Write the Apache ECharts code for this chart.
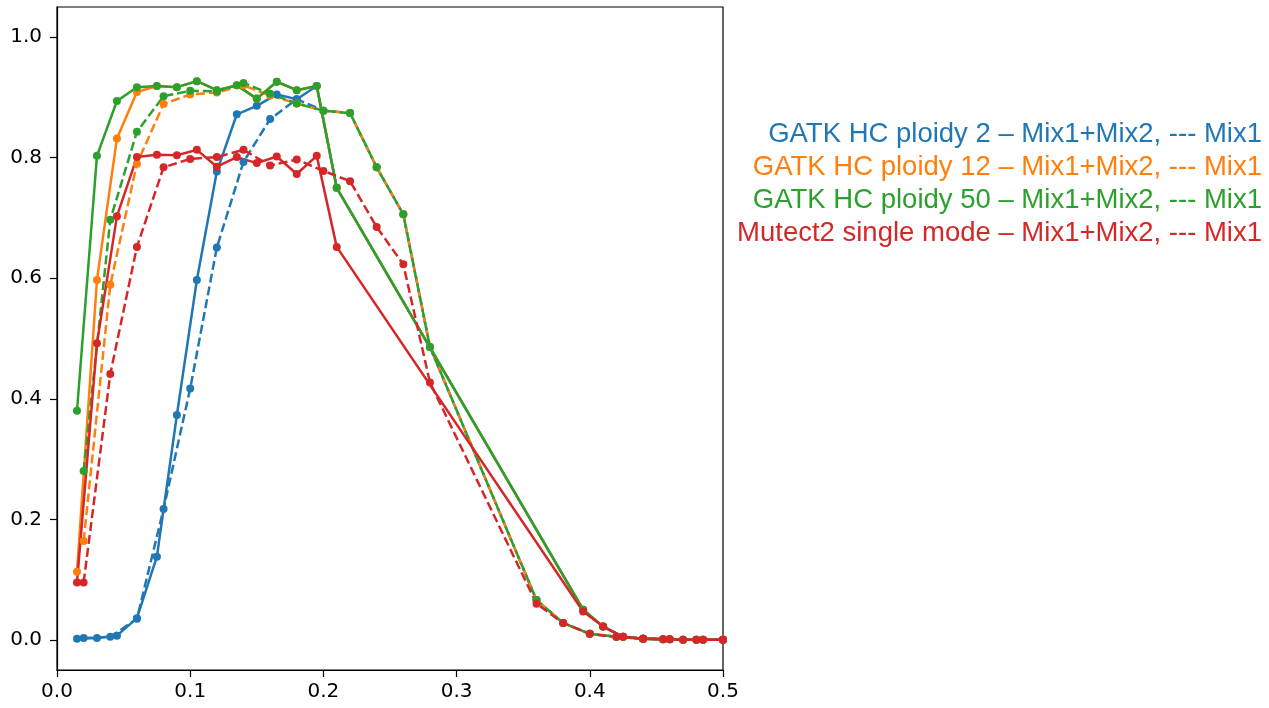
<!DOCTYPE html>
<html>
<head>
<meta charset="utf-8">
<script src="https://cdn.jsdelivr.net/npm/echarts@6/dist/echarts.min.js"></script>
<style>
  html, body { margin: 0; padding: 0; background: #fff; }
  #chart { width: 1269px; height: 708px; }
</style>
</head>
<body>
<div id="chart"></div>
<script>
// allele frequency points: Mix1+Mix2 (solid) and Mix1 (dashed)
const xSolid = [0.015, 0.03, 0.045, 0.06, 0.075, 0.09, 0.105, 0.12, 0.135, 0.15, 0.165, 0.18, 0.195, 0.21, 0.395, 0.41, 0.425, 0.44, 0.455, 0.47, 0.485, 0.5];
const xDashed = [0.02, 0.04, 0.06, 0.08, 0.1, 0.12, 0.14, 0.16, 0.18, 0.2, 0.22, 0.24, 0.26, 0.28, 0.36, 0.38, 0.4, 0.42, 0.44, 0.46, 0.48, 0.5];

const ploidy2Solid  = [0.002, 0.003, 0.007, 0.036, 0.138, 0.373, 0.597, 0.777, 0.872, 0.886, 0.905, 0.897, 0.919, 0.75, 0.05, 0.022, 0.005, 0.002, 0.001, 0, 0, 0];
const ploidy12Solid = [0.113, 0.597, 0.832, 0.909, 0.919, 0.917, 0.927, 0.912, 0.92, 0.898, 0.926, 0.912, 0.919, 0.75, 0.05, 0.022, 0.005, 0.002, 0.001, 0, 0, 0];
const ploidy50Solid = [0.38, 0.803, 0.894, 0.917, 0.919, 0.917, 0.927, 0.912, 0.92, 0.898, 0.926, 0.912, 0.919, 0.75, 0.05, 0.022, 0.005, 0.002, 0.001, 0, 0, 0];
const mutectSolid   = [0.095, 0.492, 0.703, 0.801, 0.805, 0.804, 0.813, 0.785, 0.801, 0.791, 0.802, 0.773, 0.803, 0.652, 0.047, 0.022, 0.005, 0.002, 0.001, 0, 0, 0];

const ploidy2Dashed  = [0.003, 0.005, 0.035, 0.217, 0.417, 0.651, 0.793, 0.864, 0.897, 0.878, 0.874, 0.784, 0.706, 0.486, 0.066, 0.028, 0.01, 0.005, 0.002, 0.001, 0, 0];
const ploidy12Dashed = [0.164, 0.589, 0.79, 0.889, 0.905, 0.908, 0.92, 0.903, 0.89, 0.878, 0.874, 0.784, 0.706, 0.486, 0.066, 0.028, 0.01, 0.005, 0.002, 0.001, 0, 0];
const ploidy50Dashed = [0.28, 0.697, 0.843, 0.902, 0.911, 0.91, 0.924, 0.906, 0.89, 0.878, 0.874, 0.784, 0.706, 0.486, 0.066, 0.028, 0.01, 0.005, 0.002, 0.001, 0, 0];
const mutectDashed   = [0.095, 0.441, 0.652, 0.784, 0.798, 0.801, 0.813, 0.787, 0.797, 0.778, 0.761, 0.685, 0.623, 0.427, 0.06, 0.028, 0.01, 0.005, 0.002, 0.001, 0, 0];

const yTicks = [0, 0.2, 0.4, 0.6, 0.8, 1.0];
const legendLabels = [
    'GATK HC ploidy 2 \u2013 Mix1+Mix2, --- Mix1',
    'GATK HC ploidy 12 \u2013 Mix1+Mix2, --- Mix1',
    'GATK HC ploidy 50 \u2013 Mix1+Mix2, --- Mix1',
    'Mutect2 single mode \u2013 Mix1+Mix2, --- Mix1'
];
const colors = ['#1f77b4', '#ff7f0e', '#2ca02c', '#d62728'];

const pair = (xs, ys) => xs.map((x, i) => [x, ys[i]]);

function mkSeries(name, xs, ys, color, dashed) {
    return {
        name: name,
        type: 'line',
        data: pair(xs, ys),
        symbol: 'circle',
        symbolSize: 8,
        showAllSymbol: true,
        lineStyle: { color: color, width: 2.5, type: dashed ? [9, 4] : 'solid' },
        itemStyle: { color: color },
        emphasis: { disabled: true }
    };
}

const series = [
    mkSeries('p2', xSolid, ploidy2Solid, colors[0], false),
    mkSeries('p2d', xDashed, ploidy2Dashed, colors[0], true),
    mkSeries('p12', xSolid, ploidy12Solid, colors[1], false),
    mkSeries('p12d', xDashed, ploidy12Dashed, colors[1], true),
    mkSeries('p50', xSolid, ploidy50Solid, colors[2], false),
    mkSeries('p50d', xDashed, ploidy50Dashed, colors[2], true),
    mkSeries('m2', xSolid, mutectSolid, colors[3], false),
    mkSeries('m2d', xDashed, mutectDashed, colors[3], true)
];

const chart = echarts.init(document.getElementById('chart'));
chart.setOption({
    animation: false,
    backgroundColor: '#fff',
    grid: {
        left: 57, top: 7, width: 666, height: 663,
        show: true, borderColor: '#000', borderWidth: 1.2, backgroundColor: 'transparent'
    },
    xAxis: {
        type: 'value',
        min: 0, max: 0.5, interval: 0.1,
        splitLine: { show: false },
        axisLine: { onZero: false, lineStyle: { color: '#000', width: 1.2 } },
        axisTick: { show: true, length: 7, lineStyle: { color: '#000', width: 1.2 } },
        axisLabel: {
            color: '#000', fontFamily: 'DejaVu Sans', fontSize: 20, margin: 12,
            formatter: v => v.toFixed(1)
        }
    },
    yAxis: {
        type: 'value',
        min: -0.05, max: 1.05,
        splitLine: { show: false },
        axisLine: { show: true, onZero: false, lineStyle: { color: '#000', width: 1.2 } },
        axisTick: { show: true, length: 7, customValues: yTicks, lineStyle: { color: '#000', width: 1.2 } },
        axisLabel: {
            color: '#000', fontFamily: 'DejaVu Sans', fontSize: 20, margin: 15,
            customValues: yTicks,
            formatter: v => v.toFixed(1)
        }
    },
    graphic: legendLabels.map((t, i) => ({
        type: 'text',
        right: 7,
        top: 120 + i * 33,
        style: {
            text: t,
            fill: colors[i],
            font: '27.5px "Liberation Sans", Arial, sans-serif'
        }
    })),
    series: series
});
</script>
</body>
</html>
